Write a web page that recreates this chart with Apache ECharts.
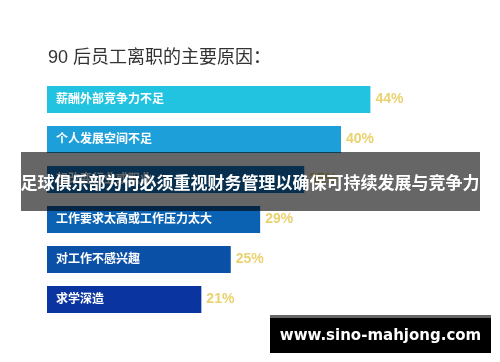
<!DOCTYPE html>
<html>
<head>
<meta charset="utf-8">
<script src="https://cdn.jsdelivr.net/npm/echarts@6/dist/echarts.min.js"></script>
<style>html,body{margin:0;padding:0;background:#fff}#c{width:500px;height:362px}</style>
</head>
<body>
<div id="c"></div>
<script>
var titleText = '90 后员工离职的主要原因：';
var categories = ['薪酬外部竞争力不足', '个人发展空间不足', '想改变行业或职业', '工作要求太高或工作压力太大', '对工作不感兴趣', '求学深造'];
var values = [44, 40, 35, 29, 25, 21];
var bannerText = '足球俱乐部为何必须重视财务管理以确保可持续发展与竞争力';
var watermarkText = 'www.sino-mahjong.com';
var palette = ['#21C3E0', '#1D9FD9', '#1479C4', '#0B62B3', '#0A50A6', '#0A34A0'];

var FONT = '"Liberation Sans", "Noto Sans CJK SC", sans-serif';
var chart = echarts.init(document.getElementById('c'));
chart.setOption({
  animation: false,
  backgroundColor: '#ffffff',
  color: palette,
  title: {
    text: titleText, left: 43, top: 44,
    textStyle: { color: '#333333', fontSize: 18, fontWeight: 'normal', fontFamily: FONT }
  },
  grid: { left: 47, right: 12, top: 79.5, bottom: 42.5 },
  xAxis: { type: 'value', min: 0, max: 60, show: false },
  yAxis: {
    type: 'category', data: categories, inverse: true, z: 10,
    axisLine: { show: false }, axisTick: { show: false },
    axisLabel: { inside: true, margin: 9, color: '#ffffff', fontSize: 12, fontWeight: 'bold', fontFamily: FONT }
  },
  series: [{
    type: 'bar', data: values, barWidth: 27, colorBy: 'data',
    label: { show: true, position: 'right', distance: 5, formatter: '{c}%', color: '#EAD26E', fontSize: 14, fontWeight: 'bold', fontFamily: FONT }
  }],
  graphic: [
    { type: 'rect', z: 100, shape: { x: 21, y: 152, width: 459, height: 59 }, style: { fill: 'rgba(0,0,0,0.6)' } },
    { type: 'text', z: 101, x: 250, y: 184, style: { text: bannerText, fill: '#ffffff', fontSize: 17, fontWeight: 'bold', fontFamily: FONT, align: 'center', verticalAlign: 'middle' } },
    { type: 'rect', z: 100, shape: { x: 270, y: 315, width: 221, height: 3 }, style: { fill: '#666666' } },
    { type: 'rect', z: 100, shape: { x: 270, y: 318, width: 221, height: 35 }, style: { fill: '#000000' } },
    { type: 'text', z: 101, x: 380.5, y: 336, style: { text: watermarkText, fill: '#ffffff', fontSize: 15, fontWeight: 'bold', fontFamily: '"DejaVu Sans", sans-serif', align: 'center', verticalAlign: 'middle' } }
  ]
});
</script>
</body>
</html>
